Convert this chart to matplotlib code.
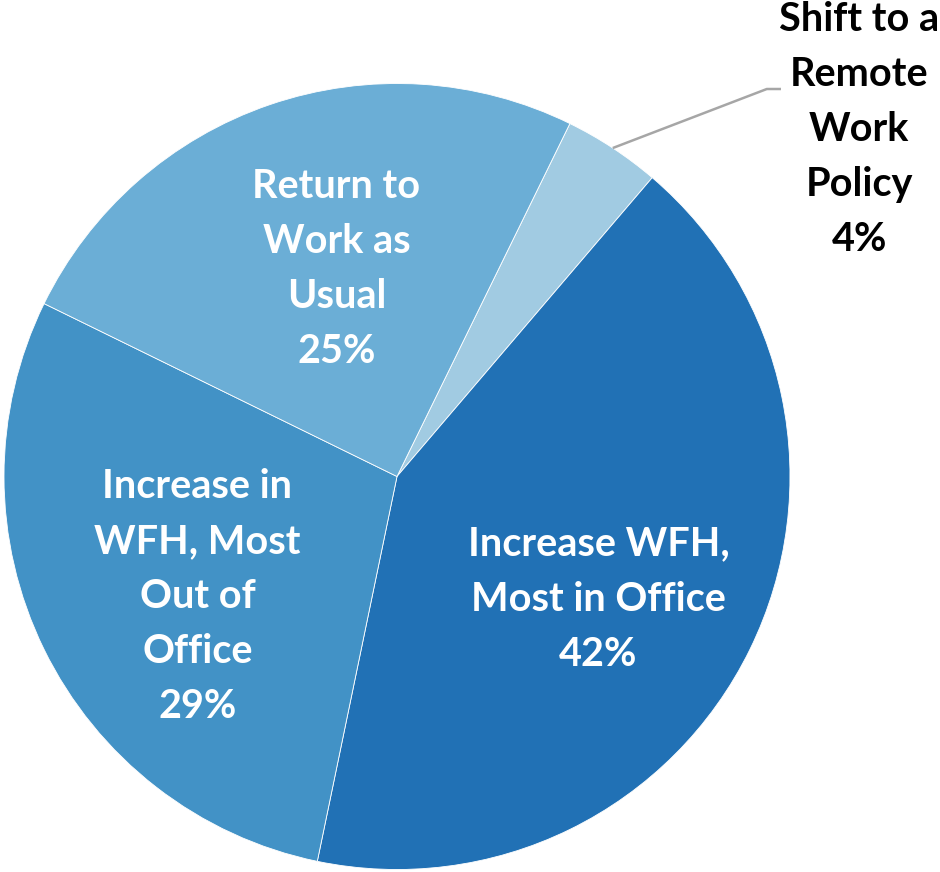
import numpy as np
import matplotlib.pyplot as plt

labels = ['Shift to a\nRemote\nWork\nPolicy',
          'Increase WFH,\nMost in Office',
          'Increase in\nWFH, Most\nOut of\nOffice',
          'Return to\nWork as\nUsual']
shares = [4, 42, 29, 25]
colors = ['#a1cbe2', '#2171b5', '#4292c6', '#6baed6']

plt.rcParams['font.family'] = ['Lato', 'DejaVu Sans']

fig = plt.figure(figsize=(9.4, 8.72), dpi=100)
ax = fig.add_axes([0, 0, 1, 1])

wedges, _ = ax.pie(shares, colors=colors, startangle=63.9, counterclock=False,
                   radius=1, center=(0, 0),
                   wedgeprops=dict(edgecolor='white', linewidth=0.6))

# inside labels: distance from centre (radius units) and angle nudge (deg)
lab_r = [None, 0.60, 0.593, 0.55]
lab_nudge = [0, -5.2, 5.0, -2.6]
for i, w in enumerate(wedges):
    if i == 0:
        continue
    mid = np.deg2rad((w.theta1 + w.theta2) / 2 + lab_nudge[i])
    x, y = lab_r[i] * np.cos(mid), lab_r[i] * np.sin(mid)
    ax.text(x, y, f'{labels[i]}\n{shares[i]}%', ha='center', va='center',
            color='white', fontsize=28.5, fontweight='bold', linespacing=1.6)

# small slice gets a callout outside the pie
w = wedges[0]
mid = np.deg2rad((w.theta1 + w.theta2) / 2)
ax.plot([np.cos(mid), 0.941, 0.977], [np.sin(mid), 0.986, 0.986],
        color='#a6a6a6', linewidth=1.8, solid_capstyle='butt')
ax.text(1.176, 0.882, f'{labels[0]}\n{shares[0]}%', ha='center', va='center',
        color='black', fontsize=28.5, fontweight='bold', linespacing=1.6)

ax.set_xlim(-397 / 393, 543 / 393)
ax.set_ylim(-395.5 / 393, 476.5 / 393)
ax.set_aspect('auto')
ax.axis('off')

fig.savefig('out.png', dpi=100)
